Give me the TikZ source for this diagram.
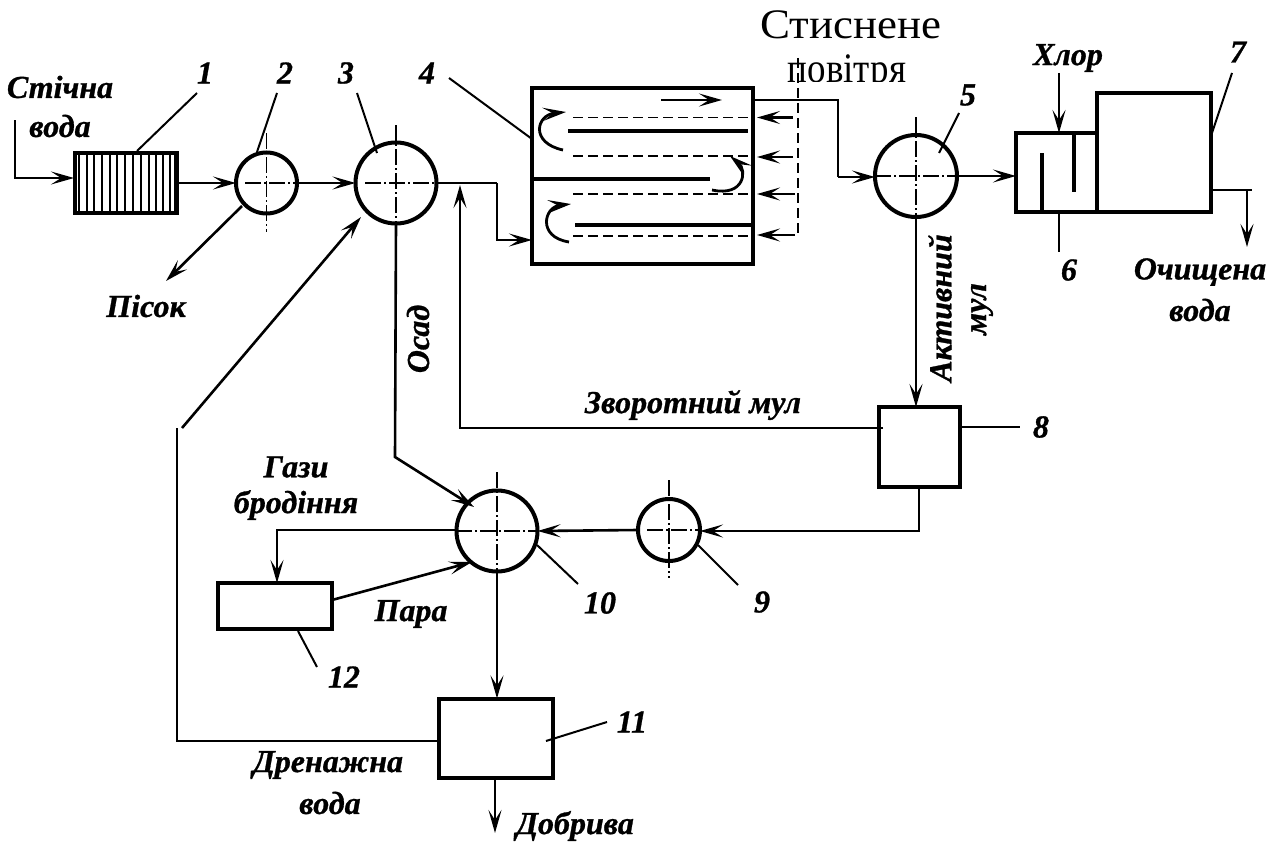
\documentclass[tikz,border=0pt]{standalone}
\usepackage{fontspec}
\setmainfont{Liberation Serif}[BoldItalicFeatures={FakeBold=0.9}]
\usetikzlibrary{arrows.meta,calc}
\tikzset{
 x=1pt,y=-1pt,
 flowtip/.style={-{Stealth[length=23pt,width=13pt,inset=10pt]}},
 flow/.style={line width=2.6pt,flowtip},
 plainline/.style={line width=2.2pt},
 leader/.style={line width=2pt},
 centerline/.style={line width=1.5pt,dash pattern=on 16pt off 3pt on 2pt off 3pt},
 dashline/.style={line width=1.6pt,dash pattern=on 10pt off 5pt},
 heavy/.style={line width=4pt},
 curl/.style={line width=2.8pt,flowtip},
 unit/.style={draw,circle,line width=4pt,inner sep=0pt,outer sep=0pt,minimum size=#1},
 tank/.style n args={2}{draw,rectangle,line width=4pt,inner sep=0pt,outer sep=0pt,minimum width=#1,minimum height=#2},
 lab/.style={font=\bfseries\itshape\fontsize{32}{32}\selectfont,inner sep=0pt},
 txt/.style={font=\fontsize{42}{42}\selectfont,inner sep=0pt},
}
\begin{document}
\begin{tikzpicture}
\useasboundingbox (0,0) rectangle (1278,843);
\fill[white] (0,0) rectangle (1278,843);
% units
\node[tank={102}{60}] (b1) at (126,182.5) {};
\node[unit=61pt] (c2) at (266.5,183) {};
\node[unit=81pt] (c3) at (396,183) {};
\node[tank={221}{176}] (b4) at (642.5,176) {};
\node[unit=82pt] (c5) at (916,176) {};
\node[tank={81}{79}] (b6) at (1056.5,172.5) {};
\node[tank={114}{119}] (b7) at (1154,152.5) {};
\node[tank={81}{80}] (b8) at (919,447) {};
\node[unit=62pt] (c9) at (669,530) {};
\node[unit=81pt] (c10) at (497,531) {};
\node[tank={114}{79}] (b11) at (495.5,738) {};
\node[tank={114}{46}] (b12) at (275,606) {};
% screen bars in 1
\foreach \xx in {79,87,94,102,110,117,125,133,141,149,156,163,170,175}
  \draw[line width=1.5pt] (\xx,152) -- (\xx,212);
% coordinates
\coordinate (in0) at (15,120);
\coordinate (in1) at (15,178);
\coordinate (in2) at (74,178);
\coordinate (sand) at (166,281);
\coordinate (s0) at (242,206);
\coordinate (j1) at (497,183);
\coordinate (j2) at (497,240);
\coordinate (j3) at (532,240);
\coordinate (r0) at (460,428);
\coordinate (r1) at (460,185);
\coordinate (r2) at (883,428);
\coordinate (o1) at (395,457);
\coordinate (o2) at (474,507);
\coordinate (a1) at (838,100);
\coordinate (a2) at (838,177);
\coordinate (a3) at (875,177);
\coordinate (d0) at (177,428);
\coordinate (d1) at (177,741);
\coordinate (d2) at (438,741);
\coordinate (e0) at (182,428);
\coordinate (e1) at (361,217);
\coordinate (g0) at (456,530);
\coordinate (g1) at (277,530);
\coordinate (g2) at (277,583);
\coordinate (h0) at (332,600);
\coordinate (h1) at (472,562);
\coordinate (k0) at (919,487);
\coordinate (k1) at (919,531);
\coordinate (k2) at (700,531);
\coordinate (cl0) at (1059,73);
\coordinate (cl1) at (1059,133);
\coordinate (w0) at (1211,190);
\coordinate (w1) at (1252,190);
\coordinate (w2) at (1247,190);
\coordinate (w3) at (1247,247);
\coordinate (f0) at (495,778);
\coordinate (f1) at (495,833);
\coordinate (l8) at (1020,427);
% centre lines
\foreach \n/\t/\b/\l/\r in {c2/133/232/245/296,c3/125/240/365/437,c5/117/225/875/957,c9/480/578/647/699,c10/472/572/456/538}{
  \path (\n.center) coordinate (cc);
  \draw[centerline] (cc |- 0,\t) -- (cc |- 0,\b);
  \draw[centerline] (\l,0 |- cc) -- (\r,0 |- cc);
}
% main connectors
\draw[flow] (in0) -- (in1) -- (in2);
\draw[flow] (b1.east |- c2.west) -- (c2.west);
\draw[flow] (c2.east) -- (c3.west);
\draw[flow] (s0) -- (sand);
\draw[plainline] (c3.east) -- (j1);
\draw[flow] (j1) -- (j2) -- (j3);
\draw[flow] (r2) -- (r0) -- (r1);
\draw[flow] (c3.south) -- (o1) -- (o2);
\draw[flow] (c5.south) -- (c5.south |- b8.north);
\draw[plainline] (b8.east |- l8) -- (l8);
\draw[flow] (k0) -- (k1) -- (k2);
\draw[flow] (c9.west) -- (c10.east);
\draw[flow] (g0) -- (g1) -- (g2);
\draw[flow] (h0) -- (h1);
\draw[flow] (c10.south) -- (b11.north -| c10.south);
\draw[flow] (f0) -- (f1);
\draw[plainline] (d0) -- (d1) -- (d2);
\draw[flow] (e0) -- (e1);
\draw[plainline] (b4.east |- a1) -- (a1) -- (a2);
\draw[flow] (a2) -- (a3);
\draw[flow] (c5.east) -- (b6.west |- c5.east);
\draw[flow] (cl0) -- (cl1);
\draw[plainline] (w0) -- (w1);
\draw[flow] (w2) -- (w3);
% inside 6
\draw[heavy] (1042,153) -- (1042,212);
\draw[heavy] (1074,133) -- (1074,192);
% inside 4
\draw[heavy] (532,179) -- (710,179);
\draw[heavy] (568,131) -- (748,131);
\draw[heavy] (575,225) -- (755,225);
\draw[flow] (661,100) -- (722,100);
\foreach \yy in {117.5,156,194,236}{
  \draw[dashline] (573,\yy) -- (753,\yy);
}
\draw[dashline] (798,58) -- (798,235);
\foreach \yy/\xs in {117.5/793,157/793,194/795,235/795}{
  \draw[flow] (\xs,\yy) -- (757,\yy);
}
\draw[curl] (563,150) .. controls (530,143) and (536,115) .. (566,112);
\draw[curl] (712,190) .. controls (745,197) and (747,170) .. (730,156);
\draw[curl] (569,242) .. controls (537,237) and (544,207) .. (571,204);
% leaders
\draw[leader] (197,93) -- (137,151);
\draw[leader] (277,93) -- (257,152);
\draw[leader] (357,93) -- (377,153);
\draw[leader] (449,78) -- (532,139);
\draw[leader] (959,113) -- (939,153);
\draw[leader] (1059,212) -- (1059,252);
\draw[leader] (1232,73) -- (1212,133);
\draw[leader] (537,545) -- (578,584);
\draw[leader] (298,631) -- (317,667);
\draw[leader] (546,741) -- (607,722);
\draw[leader] (698,545) -- (738,585);
% labels
\node[lab] (t1) at (60,87) {Стічна};
\node[lab] (t2) at (60,126) {вода};
\node[lab] (t3) at (146,306) {Пісок};
\node[lab] (t4) at (1068,58) {Хлор};
\node[lab] (t5) at (1200,272) {Очищена};
\node[lab] (t6) at (1200,310) {вода};
\node[lab,rotate=90] (t7) at (418,339) {Осад};
\node[lab,rotate=90] (t8) at (940,308) {Активний};
\node[lab,rotate=90] (t9) at (982,309) {мул};
\node[lab] (t10) at (693,405) {Зворотний мул};
\node[lab] (t11) at (296,467) {Гази};
\node[lab] (t12) at (296,505) {бродіння};
\node[lab] (t13) at (411,614) {Пара};
\node[lab] (t14) at (328,765) {Дренажна};
\node[lab] (t15) at (330,803) {вода};
\node[lab] (t16) at (575,826) {Добрива};
\node[lab] (n1) at (205,73) {1};
\node[lab] (n2) at (285,73) {2};
\node[lab] (n3) at (346,73) {3};
\node[lab] (n4) at (427,73) {4};
\node[lab] (n5) at (968,95) {5};
\node[lab] (n6) at (1069,270) {6};
\node[lab] (n7) at (1238,52) {7};
\node[lab] (n8) at (1041,427) {8};
\node[lab] (n9) at (762,602) {9};
\node[lab] (n10) at (600,603) {10};
\node[lab] (n11) at (632,722) {11};
\node[lab] (n12) at (344,677) {12};
\node[txt,anchor=base,xscale=1.07] (top1) at (850.5,39) {Стиснене};
\begin{scope}
\clip (780,50) rectangle (920,82);
\node[txt,anchor=base,xscale=.88] (top2) at (847,82) {повітря};
\end{scope}
\end{tikzpicture}
\end{document}
